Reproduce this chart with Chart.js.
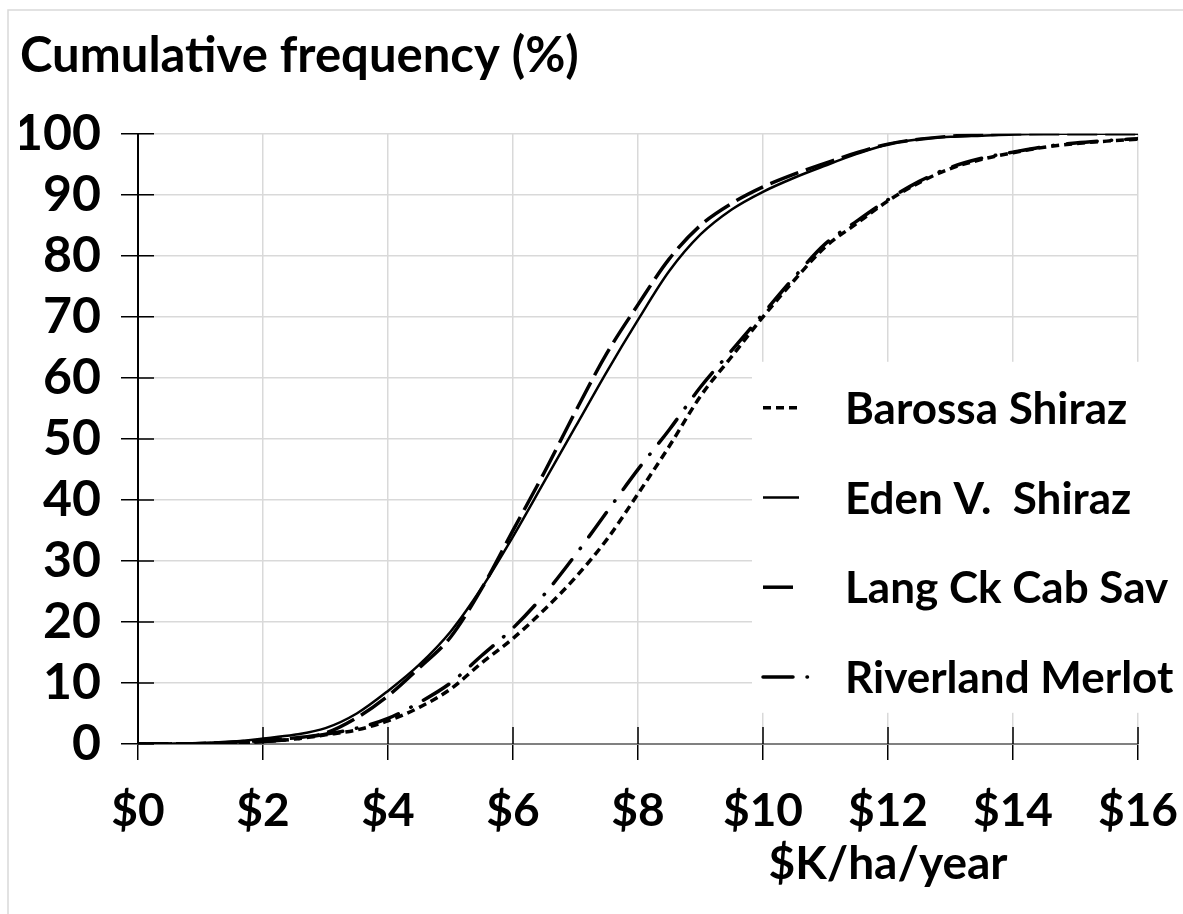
<!DOCTYPE html>
<html lang="en">
<head>
  <meta charset="UTF-8">
  <title>Cumulative frequency</title>
  <script src="https://cdn.jsdelivr.net/npm/chart.js"></script>
  <style>
    html, body { margin: 0; padding: 0; background: #fff; }
    #chart { display: block; }
  </style>
</head>
<body>
  <canvas id="chart" width="1183" height="914"></canvas>

  <script>
    // $K/ha/year values the curves were read at
    const xValues = [0, 0.5, 1, 1.5, 2, 2.5, 3, 3.5, 4, 4.5, 5, 5.5, 6, 6.5, 7, 7.5, 8,
                     8.5, 9, 9.5, 10, 10.5, 11, 11.5, 12, 12.5, 13, 13.5, 14, 14.5, 15, 15.5, 16];

    // cumulative frequency (%) for each region
    const barossaShiraz = [0, 0.02, 0.05, 0.15, 0.4, 0.8, 1.5, 2.3, 3.8, 6.0, 9.0, 13.3, 17.3,
                           22, 27.3, 33.5, 41, 48.8, 57, 63.5, 70, 76, 81.5, 85.3, 89, 92, 94.3,
                           95.8, 96.9, 97.8, 98.4, 98.8, 99.1];
    const edenShiraz = [0, 0.05, 0.15, 0.4, 0.9, 1.5, 2.6, 5.0, 8.7, 13, 18.4, 25.6, 34,
                        43, 52, 61, 69.5, 77.5, 83.5, 87.6, 90.5, 92.8, 94.8, 96.7, 98.3, 99.1, 99.5,
                        99.7, 99.9, 100, 100, 100, 100];
    const langCkCabSav = [0, 0.05, 0.1, 0.3, 0.6, 1.0, 1.8, 4.3, 7.9, 12.5, 17.5, 25.5, 35,
                          44.5, 54.5, 64, 72, 79.5, 85, 88.6, 91.3, 93.4, 95.2, 96.9, 98.3, 99.1, 99.6,
                          99.8, 100, 100, 100, 100, 100];
    const riverlandMerlot = [0, 0.02, 0.05, 0.15, 0.4, 0.8, 1.6, 2.6, 4.2, 6.8, 10, 14.5, 19,
                             24.5, 31, 38, 45, 51.5, 58.5, 64.5, 70.5, 76.5, 82, 85.7, 89.2, 92.2, 94.5,
                             96, 97, 97.9, 98.5, 98.9, 99.2];

    const seriesNames = ['Barossa Shiraz', 'Eden V.  Shiraz', 'Lang Ck Cab Sav', 'Riverland Merlot'];

    const FONT = 'Lato, "Liberation Sans", sans-serif';

    function toPoints(ys) {
      return xValues.map((x, i) => ({ x: x, y: ys[i] }));
    }

    // frame, tick marks crossing the axes, legend box and x axis title
    const decorations = {
      id: 'decorations',
      beforeDraw(chart) {
        const ctx = chart.ctx;
        ctx.save();
        ctx.strokeStyle = '#d9d9d9';
        ctx.lineWidth = 1.5;
        ctx.strokeRect(8, 10, chart.width + 20, chart.height + 20);
        ctx.restore();
      },
      afterDatasetsDraw(chart) {
        const ctx = chart.ctx;
        const area = chart.chartArea;
        const xs = chart.scales.x;
        const sampleLen = [36, 36, 30, 50];

        // legend
        const x0 = xs.getPixelForValue(10);
        ctx.save();
        ctx.fillStyle = '#fff';
        ctx.fillRect(x0 - 11, area.top + 228, chart.width - x0 + 11, 351);
        chart.data.datasets.forEach((ds, i) => {
          const y = area.top + 274 + i * 89.7;
          ctx.strokeStyle = '#000';
          ctx.lineWidth = ds.borderWidth;
          ctx.lineCap = ds.borderCapStyle || 'butt';
          ctx.setLineDash(ds.borderDash || []);
          ctx.beginPath();
          ctx.moveTo(x0, y);
          ctx.lineTo(x0 + sampleLen[i], y);
          ctx.stroke();
          ctx.setLineDash([]);
          ctx.fillStyle = '#000';
          ctx.font = 'bold 44px ' + FONT;
          ctx.textBaseline = 'middle';
          ctx.textAlign = 'left';
          ctx.fillText(ds.label, x0 + 82, y + 2);
        });
        ctx.restore();
      },
      afterDraw(chart) {
        const ctx = chart.ctx;
        const area = chart.chartArea;
        const xs = chart.scales.x;
        const ys = chart.scales.y;
        ctx.save();
        ctx.strokeStyle = '#000';
        ctx.lineWidth = 1.5;
        ctx.beginPath();
        xs.ticks.forEach(t => {
          const px = xs.getPixelForValue(t.value);
          ctx.moveTo(px, area.bottom);
          ctx.lineTo(px, area.bottom - 17);
        });
        ys.ticks.forEach(t => {
          const py = ys.getPixelForValue(t.value);
          ctx.moveTo(area.left, py);
          ctx.lineTo(area.left + 16, py);
        });
        ctx.stroke();

        // x axis title
        ctx.fillStyle = '#000';
        ctx.font = 'bold 46px ' + FONT;
        ctx.textAlign = 'center';
        ctx.textBaseline = 'middle';
        ctx.fillText('$K/ha/year', xs.getPixelForValue(12), area.bottom + 120);
        ctx.restore();
      }
    };

    new Chart(document.getElementById('chart'), {
      type: 'line',
      data: {
        datasets: [{
          label: seriesNames[0],
          data: toPoints(barossaShiraz),
          borderColor: '#000',
          borderWidth: 3.5,
          borderDash: [8, 5],
        }, {
          label: seriesNames[1],
          data: toPoints(edenShiraz),
          borderColor: '#000',
          borderWidth: 2.5,
        }, {
          label: seriesNames[2],
          data: toPoints(langCkCabSav),
          borderColor: '#000',
          borderWidth: 3.5,
          borderDash: [30, 8],
        }, {
          label: seriesNames[3],
          data: toPoints(riverlandMerlot),
          borderColor: '#000',
          borderWidth: 3.5,
          borderCapStyle: 'round',
          borderDash: [30, 14, 0.5, 14],
        }]
      },
      options: {
        responsive: false,
        animation: false,
        elements: {
          point: { radius: 0 },
          line: { tension: 0.4, cubicInterpolationMode: 'monotone', fill: false }
        },
        layout: { padding: { left: 20, right: 45, top: 0, bottom: 0 } },
        plugins: {
          legend: { display: false },
          tooltip: { enabled: false },
          title: {
            display: true,
            text: 'Cumulative frequency (%)',
            align: 'start',
            color: '#000',
            font: { family: FONT, size: 49, weight: 'bold', lineHeight: 1.2 },
            padding: { top: 27, bottom: 48 }
          }
        },
        scales: {
          x: {
            type: 'linear',
            min: 0,
            max: 16,
            afterFit(scale) {
              scale.height = 170;
              scale.paddingRight = 0;
            },
            grid: { color: '#d9d9d9', lineWidth: 1.5, tickColor: '#000', tickLength: 16, tickWidth: 1.5 },
            border: { color: '#808080', width: 2 },
            ticks: {
              stepSize: 2,
              autoSkip: false,
              color: '#000',
              padding: 24,
              maxRotation: 0,
              font: { family: FONT, size: 46, weight: 'bold' },
              callback: v => '$' + v
            }
          },
          y: {
            min: 0,
            max: 100,
            afterFit(scale) { scale.width = 118; },
            grid: { color: '#d9d9d9', lineWidth: 1.5, tickColor: '#000', tickLength: 17, tickWidth: 1.5 },
            border: { color: '#000', width: 2 },
            ticks: {
              stepSize: 10,
              autoSkip: false,
              color: '#000',
              padding: 20,
              font: { family: FONT, size: 50, weight: 'bold', lineHeight: 1 }
            }
          }
        }
      },
      plugins: [decorations]
    });
  </script>
</body>
</html>
